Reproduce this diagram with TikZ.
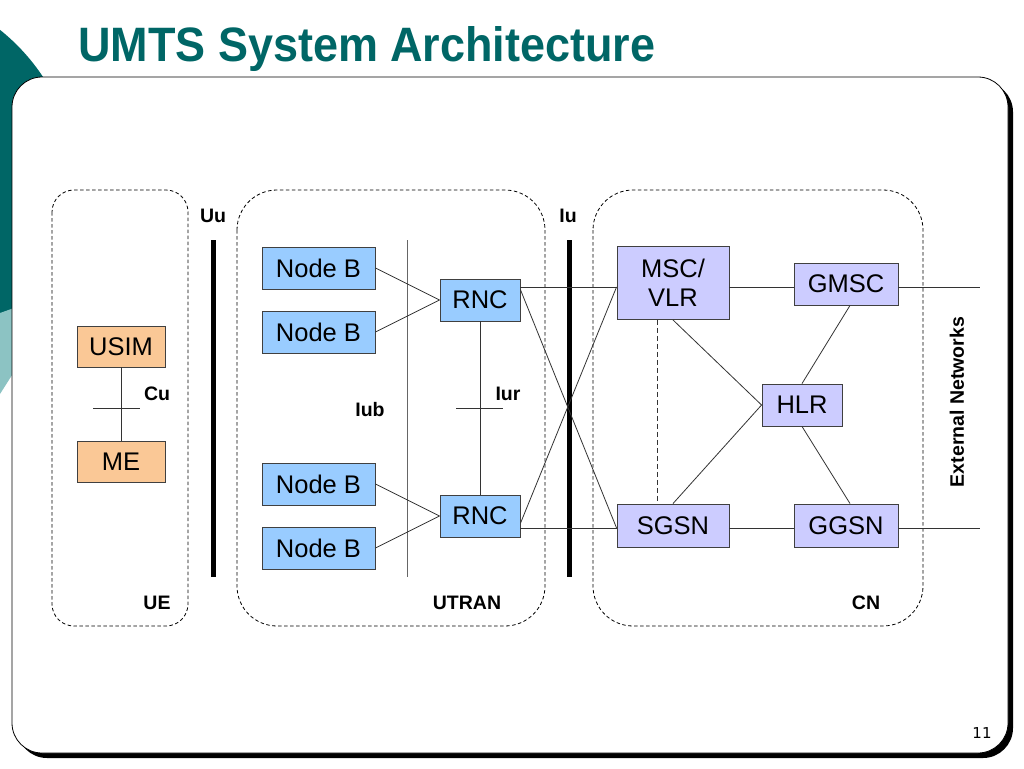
\documentclass[tikz,border=0pt]{standalone}
\usepackage{graphicx}
\usepackage{fontspec}
\setmainfont{Liberation Sans}
\newfontfamily\numfont{DejaVu Sans}
\usetikzlibrary{calc}
\definecolor{teal1}{RGB}{0,102,102}
\definecolor{lightteal}{RGB}{140,195,195}
\definecolor{peach}{RGB}{250,200,150}
\definecolor{nodeblue}{RGB}{153,204,255}
\definecolor{lav}{RGB}{204,204,255}
\begin{document}
\begin{tikzpicture}[x=1pt,y=-1pt,
  box/.style={draw=black!75, line width=0.9pt, inner sep=0pt, font=\fontsize{25.5}{28}\selectfont, align=center},
  uebox/.style={box, fill=peach, minimum width=88pt, minimum height=41pt},
  ranbox/.style={box, fill=nodeblue, minimum height=42pt},
  cnbox/.style={box, fill=lav},
  grp/.style={draw=black, line width=0.8pt, dash pattern=on 3.5pt off 2.5pt},
  link/.style={draw=black!80, line width=0.8pt},
  graylink/.style={draw=black!60, line width=0.9pt},
  lbl/.style={font=\fontsize{19.5}{22}\selectfont\bfseries, inner sep=0pt},
  iface/.style={line width=5pt, draw=black},
]
\useasboundingbox (0,0) rectangle (1024,768);
% decoration
\fill[teal1] (-128,190) circle (205);
\fill[lightteal] (0,313) -- (14,308) -- (14,372) -- (0,394) -- cycle;
% panel
\fill[black, rounded corners=30pt] (17,82) rectangle (1013,758);
\filldraw[fill=white, draw=black, line width=0.8pt, rounded corners=30pt] (12,77) rectangle (1008,753);
% title
\node[anchor=base west, inner sep=0pt, text=teal1] (title) at (78,62) {\resizebox{577pt}{35pt}{\bfseries UMTS System Architecture}};
% groups
\draw[grp, rounded corners=22pt] (52,190) rectangle (188,626);
\draw[grp, rounded corners=40pt] (237,190) rectangle (545,626);
\draw[grp, rounded corners=40pt] (593,190) rectangle (923,626);
% group labels
\node[lbl] (ue) at (157,603) {UE};
\node[lbl] (utran) at (467,603) {UTRAN};
\node[lbl] (cn) at (866,603) {CN};
% interface lines
\coordinate (uutop) at (213,240); \coordinate (uubot) at (213,577);
\coordinate (iutop) at (569,240); \coordinate (iubot) at (569,577);
\coordinate (iubtop) at (407,240); \coordinate (iubbot) at (407,577);
\draw[iface] (uutop) -- (uubot);
\draw[iface] (iutop) -- (iubot);
\draw[graylink] (iubtop) -- (iubbot);
\node[lbl] (uu) at (213,216) {Uu};
\node[lbl] (iu) at (568,216) {Iu};
\node[lbl] (iub) at (370,410) {Iub};
\node[lbl] (iur) at (508,394) {Iur};
\node[lbl] (cu) at (157,394) {Cu};
% UE nodes
\node[uebox] (usim) at (121,346.5) {USIM};
\node[uebox] (me) at (121,461.5) {ME};
% RAN nodes
\node[ranbox, minimum width=113pt] (nb1) at (318.5,268) {Node B};
\node[ranbox, minimum width=113pt] (nb2) at (318.5,332) {Node B};
\node[ranbox, minimum width=113pt] (nb3) at (318.5,484) {Node B};
\node[ranbox, minimum width=113pt] (nb4) at (318.5,548) {Node B};
\node[ranbox, minimum width=80pt] (rnc1) at (480,300) {RNC};
\node[ranbox, minimum width=80pt] (rnc2) at (480,516) {RNC};
% CN nodes
\node[cnbox, minimum width=112pt, minimum height=73pt, font=\fontsize{25.5}{29}\selectfont] (msc) at (673,283) {MSC/\\VLR};
\node[cnbox, minimum width=104pt, minimum height=42pt] (gmsc) at (846,284) {GMSC};
\node[cnbox, minimum width=80pt, minimum height=42pt] (hlr) at (802,405) {HLR};
\node[cnbox, minimum width=112pt, minimum height=43pt] (sgsn) at (673,525.5) {SGSN};
\node[cnbox, minimum width=104pt, minimum height=43pt] (ggsn) at (846,525.5) {GGSN};
\node[lbl, rotate=90] (ext) at (957,402) {External Networks};
% links UE
\draw[link] (usim.south) -- (me.north);
\coordinate (cuL) at (93,408); \coordinate (cuR) at (140,408);
\draw[link] (cuL) -- (cuR);
% links RAN
\draw[link] (nb1.east) -- (rnc1.west);
\draw[link] (nb2.east) -- (rnc1.west);
\draw[link] (nb3.east) -- (rnc2.west);
\draw[link] (nb4.east) -- (rnc2.west);
\draw[link] (rnc1.south) -- (rnc2.north);
\coordinate (iurL) at (456,408); \coordinate (iurR) at (503,408);
\draw[link] (iurL) -- (iurR);
% Iu links
\coordinate (ext1) at (980,287);
\coordinate (ext2) at (980,528);
\draw[link] (rnc1.east |- ext1) -- (msc.west |- ext1);
\draw[link] (rnc2.east |- ext2) -- (sgsn.west |- ext2);
\draw[link] ($(rnc1.north east)!0.26!(rnc1.south east)$) -- (sgsn.west |- ext2);
\draw[link] ($(rnc2.north east)!0.67!(rnc2.south east)$) -- (msc.west |- ext1);
% CN links
\draw[link] (msc.east |- ext1) -- (gmsc.west |- ext1);
\draw[link] (gmsc.east |- ext1) -- (ext1);
\draw[link] (sgsn.east |- ext2) -- (ggsn.west |- ext2);
\draw[link] (ggsn.east |- ext2) -- (ext2);
\draw[link, dash pattern=on 5pt off 3pt] ([xshift=-16pt]msc.south) -- ([xshift=-16pt]sgsn.north);
\draw[link] (msc.south) -- (hlr.west);
\draw[link] (sgsn.north) -- (hlr.west);
\draw[link] ([xshift=4pt]gmsc.south) -- (hlr.north);
\draw[link] (hlr.south) -- ([xshift=4pt]ggsn.north);
% page number
\node[font=\numfont\fontsize{15}{17}\selectfont, inner sep=0pt] (pg) at (982,733) {11};
\end{tikzpicture}
\end{document}
